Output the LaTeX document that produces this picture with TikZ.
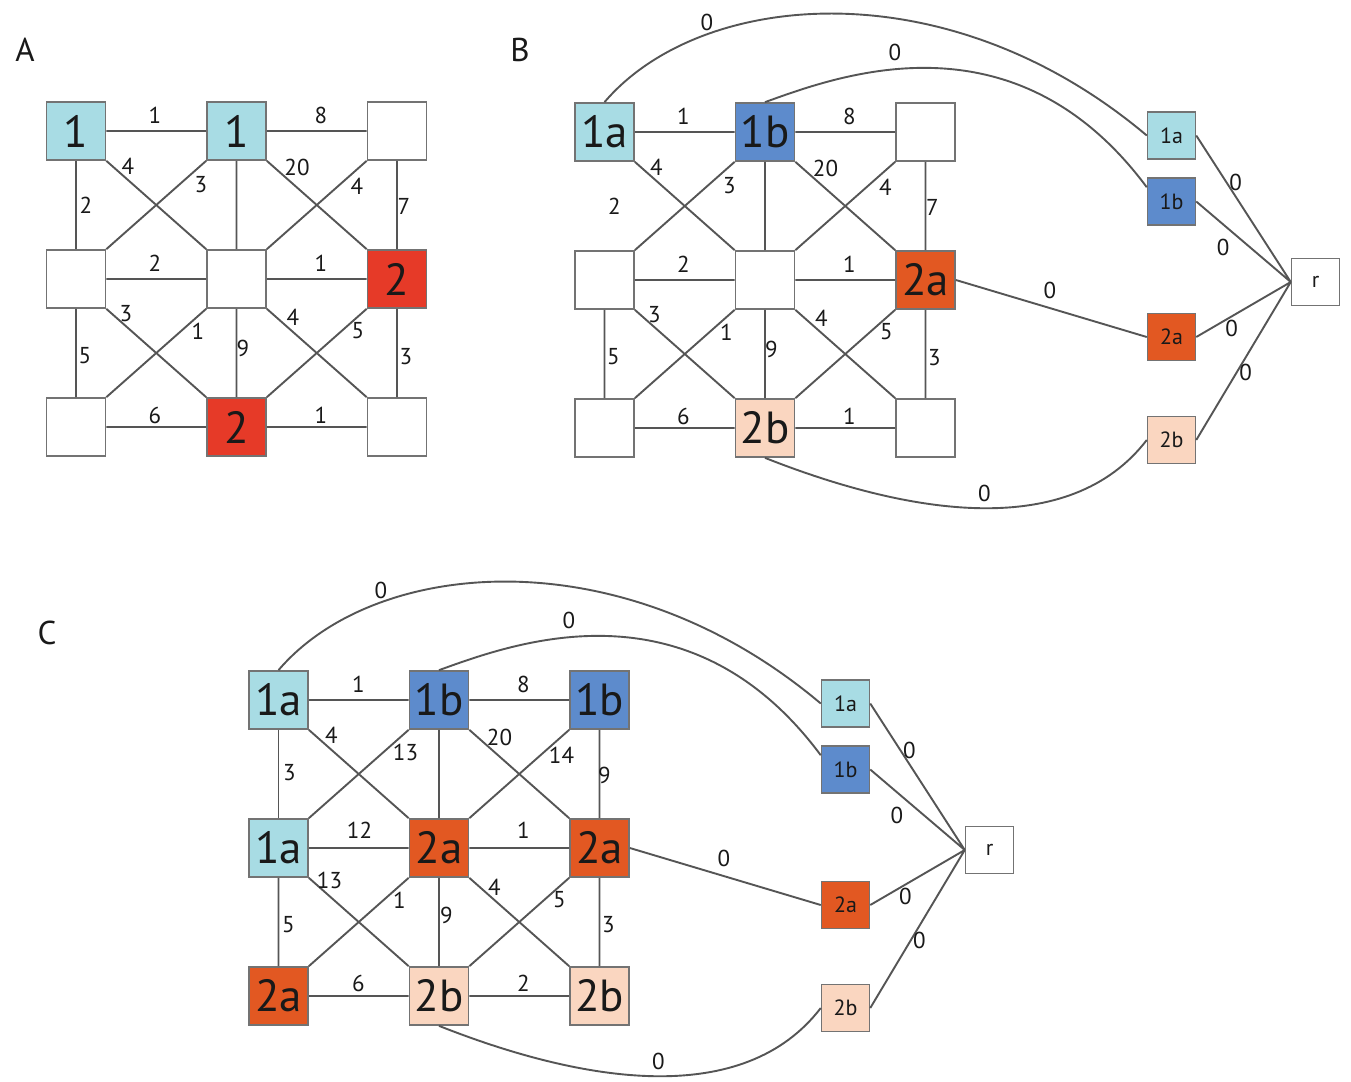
\documentclass[tikz,border=0pt]{standalone}
\usepackage{fontspec}
\setmainfont{PT Sans}
\definecolor{lblue}{RGB}{168,220,228}
\definecolor{mblue}{RGB}{93,139,204}
\definecolor{redtwo}{RGB}{230,58,40}
\definecolor{orng}{RGB}{226,88,34}
\definecolor{peach}{RGB}{250,214,192}
\definecolor{bordergray}{RGB}{115,115,115}
\definecolor{linegray}{RGB}{85,85,85}
\definecolor{txt}{RGB}{25,25,25}
\newcommand{\elab}[3]{\node[lbl] at (#1,#2) {#3};}
\newcommand{\gridedges}[1]{%
  \draw[edge] (#111.east)--(#112.west) (#112.east)--(#113.west)
    (#121.east)--(#122.west) (#122.east)--(#123.west)
    (#131.east)--(#132.west) (#132.east)--(#133.west)
    (#121.south)--(#131.north) (#112.south)--(#122.north) (#122.south)--(#132.north)
    (#113.south)--(#123.north) (#123.south)--(#133.north)
    (#111.south east)--(#122.north west) (#112.south west)--(#121.north east)
    (#112.south east)--(#123.north west) (#113.south west)--(#122.north east)
    (#121.south east)--(#132.north west) (#122.south west)--(#131.north east)
    (#122.south east)--(#133.north west) (#123.south west)--(#132.north east);}
\newcommand{\rightside}[1]{%
  \node[sbox,fill=lblue] (#1s1a) at (567,3.5) {1a};
  \node[sbox,fill=mblue] (#1s1b) at (567,69.5) {1b};
  \node[sbox,fill=orng] (#1s2a) at (567,205) {2a};
  \node[sbox,fill=peach] (#1s2b) at (567,308) {2b};
  \node[sbox] (#1r) at (711,150) {r};
  \draw[edge] (#1s1a.east)--(#1r.west) (#1s1b.east)--(#1r.west)
    (#1s2a.east)--(#1r.west) (#1s2b.east)--(#1r.west)
    (#123.east)--(#1s2a.west);
  \draw[edge] (#111.north) .. controls (95.5,-142) and (342.5,-165) .. (#1s1a.west);
  \draw[edge] (#112.north) .. controls (235.5,-57) and (410.5,-122) .. (#1s1b.150);
  \draw[edge] (#132.south) .. controls (307.5,384) and (465.5,408) .. (#1s2b.west);
  \elab{102.5}{-110}{0}\elab{290.5}{-80}{0}\elab{445.5}{158}{0}\elab{380}{361}{0}
  \elab{631}{50}{0}\elab{618.5}{115}{0}\elab{627}{196}{0}\elab{641}{240}{0}}
\begin{document}
\begin{tikzpicture}[x=1pt,y=-1pt,
  box/.style={draw=bordergray,line width=1.7pt,minimum width=59pt,minimum height=58pt,inner sep=0pt,text=txt,font=\fontsize{45}{45}\selectfont},
  sbox/.style={draw=bordergray,line width=1.5pt,minimum width=48pt,minimum height=47pt,inner sep=0pt,text=txt,font=\fontsize{22}{22}\selectfont},
  edge/.style={draw=linegray,line width=1.9pt},
  lbl/.style={font=\fontsize{23}{23}\selectfont,inner sep=0pt,text=txt},
  panel/.style={font=\fontsize{33}{33}\selectfont,text=txt}]
\useasboundingbox[fill=white] (0,0) rectangle (1351,1081);
\node[panel] (pa) at (25,50) {A};
\node[panel] (pb) at (520,50) {B};
\node[panel] (pc) at (47,633) {C};
% Panel A
\begin{scope}[shift={(76,131)}]
\node[box,fill=lblue] (a11) at (0,0) {1};
\node[box,fill=lblue] (a12) at (160.5,0) {1};
\node[box] (a13) at (321,0) {};
\node[box] (a21) at (0,148) {};
\node[box] (a22) at (160.5,148) {};
\node[box,fill=redtwo] (a23) at (321,148) {2};
\node[box] (a31) at (0,296) {};
\node[box,fill=redtwo] (a32) at (160.5,296) {2};
\node[box] (a33) at (321,296) {};
\gridedges{a}
\draw[edge] (a11.south)--(a21.north);
\elab{79}{-16}{1}\elab{245}{-16}{8}\elab{52}{35}{4}\elab{125}{54}{3}
\elab{221}{36}{20}\elab{281}{55}{4}\elab{10}{74}{2}\elab{328}{75}{7}
\elab{79}{132}{2}\elab{245}{132}{1}\elab{50}{183}{3}\elab{122}{200}{1}
\elab{167}{217}{9}\elab{217}{186}{4}\elab{282}{200}{5}\elab{9}{225}{5}
\elab{330}{226}{3}\elab{79}{284}{6}\elab{245}{284}{1}
\end{scope}
% Panel B
\begin{scope}[shift={(604.5,132)}]
\node[box,fill=lblue] (b11) at (0,0) {1a};
\node[box,fill=mblue] (b12) at (160.5,0) {1b};
\node[box] (b13) at (321,0) {};
\node[box] (b21) at (0,148) {};
\node[box] (b22) at (160.5,148) {};
\node[box,fill=orng] (b23) at (321,148) {2a};
\node[box] (b31) at (0,296) {};
\node[box,fill=peach] (b32) at (160.5,296) {2b};
\node[box] (b33) at (321,296) {};
\gridedges{b}
\rightside{b}
\elab{79}{-16}{1}\elab{245}{-16}{8}\elab{52}{35}{4}\elab{125}{54}{3}
\elab{221}{36}{20}\elab{281}{55}{4}\elab{10}{74}{2}\elab{328}{75}{7}
\elab{79}{132}{2}\elab{245}{132}{1}\elab{50}{183}{3}\elab{122}{200}{1}
\elab{167}{217}{9}\elab{217}{186}{4}\elab{282}{200}{5}\elab{9}{225}{5}
\elab{330}{226}{3}\elab{79}{284}{6}\elab{245}{284}{1}
\end{scope}
% Panel C
\begin{scope}[shift={(278.5,700)}]
\node[box,fill=lblue] (c11) at (0,0) {1a};
\node[box,fill=mblue] (c12) at (160.5,0) {1b};
\node[box,fill=mblue] (c13) at (321,0) {1b};
\node[box,fill=lblue] (c21) at (0,148) {1a};
\node[box,fill=orng] (c22) at (160.5,148) {2a};
\node[box,fill=orng] (c23) at (321,148) {2a};
\node[box,fill=orng] (c31) at (0,296) {2a};
\node[box,fill=peach] (c32) at (160.5,296) {2b};
\node[box,fill=peach] (c33) at (321,296) {2b};
\gridedges{c}
\draw[edge] (c11.south)--(c21.north);
\rightside{c}
\elab{80}{-16}{1}\elab{245}{-16}{8}\elab{53}{35}{4}\elab{127}{52}{13}
\elab{221}{37}{20}\elab{283}{55}{14}\elab{11}{73}{3}\elab{326}{75}{9}
\elab{81}{130}{12}\elab{245}{130}{1}\elab{51}{180}{13}\elab{121}{200}{1}
\elab{168}{215}{9}\elab{216}{187}{4}\elab{281}{200}{5}\elab{10}{225}{5}
\elab{330}{225}{3}\elab{80}{283}{6}\elab{245}{283}{2}
\end{scope}
\end{tikzpicture}
\end{document}
